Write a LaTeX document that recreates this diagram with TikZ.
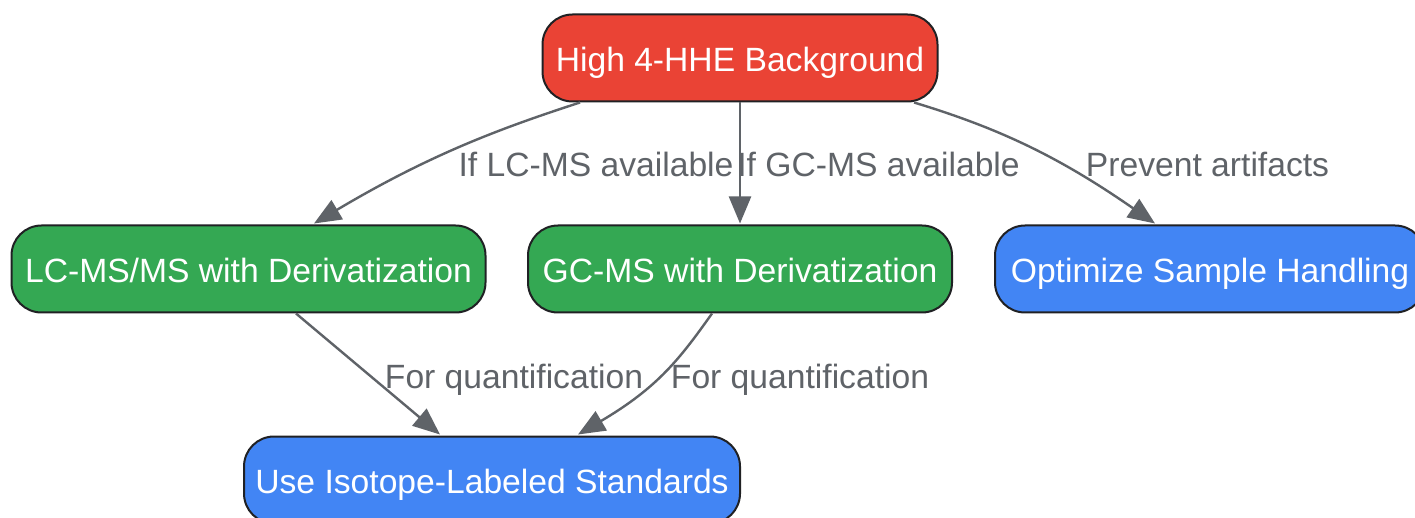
\documentclass[tikz,border=0pt]{standalone}
\usepackage{fontspec}
\setmainfont{Liberation Sans}
\usetikzlibrary{arrows.meta,calc}
\definecolor{cred}{HTML}{EA4335}
\definecolor{cgreen}{HTML}{34A853}
\definecolor{cblue}{HTML}{4285F4}
\definecolor{cline}{HTML}{5F6368}
\definecolor{cborder}{HTML}{202124}
\tikzset{
  box/.style={draw=cborder,line width=2pt,rounded corners=30pt,minimum height=87pt,inner sep=0pt,
    text=white,font=\fontsize{33.65pt}{36pt}\selectfont,text height=29pt,text depth=2pt},
  lab/.style={inner sep=0pt,text=cline,font=\fontsize{33.65pt}{36pt}\selectfont,text height=28pt,text depth=2pt},
  edge/.style={draw=cline,line width=2.4pt,-{Triangle[length=27pt,width=22pt,fill=cline]}}
}
\begin{document}
\begin{tikzpicture}[x=1pt,y=-1pt]
\useasboundingbox (0,0) rectangle (1415,518);
\clip (0,0) rectangle (1415,518);
\fill[white] (0,0) rectangle (1415,518);
\node[box,fill=cred,minimum width=395pt] (hhe) at (740,58) {High 4-HHE Background};
\node[box,fill=cgreen,minimum width=474pt] (lc) at (248.5,269) {LC-MS/MS with Derivatization};
\node[box,fill=cgreen,minimum width=424pt] (gc) at (740,269) {GC-MS with Derivatization};
\node[box,fill=cblue,minimum width=430pt] (opt) at (1210,269) {Optimize Sample Handling};
\node[box,fill=cblue,minimum width=496pt] (iso) at (492,480) {Use Isotope-Labeled Standards};
\draw[edge] ($(hhe.south)+(-160,0)$) .. controls ($(hhe.south)+(-240,26)$) and ($(hhe.south)+(-310,52)$) .. ($(lc.north)+(65.5,-1)$);
\draw[edge] (hhe.south) -- ($(gc.north)+(0,-1)$);
\draw[edge] ($(hhe.south)+(174,0)$) .. controls ($(hhe.south)+(260,26)$) and ($(hhe.south)+(320,55)$) .. ($(opt.north)+(-55,-1)$);
\draw[edge] ($(lc.south)+(47.5,0)$) -- ($(iso.north)+(-52,-1)$);
\draw[edge] ($(gc.south)+(-28,0)$) .. controls ($(gc.south)+(-60,45)$) and ($(gc.south)+(-82,74)$) .. ($(iso.north)+(86,-1)$);
\node[lab] (l1) at (596,164) {If LC-MS available};
\node[lab] (l2) at (878.5,164) {If GC-MS available};
\node[lab] (l3) at (1207.5,164) {Prevent artifacts};
\node[lab] (l4) at (514,375.5) {For quantification};
\node[lab] (l5) at (800,375.5) {For quantification};
\end{tikzpicture}
\end{document}
